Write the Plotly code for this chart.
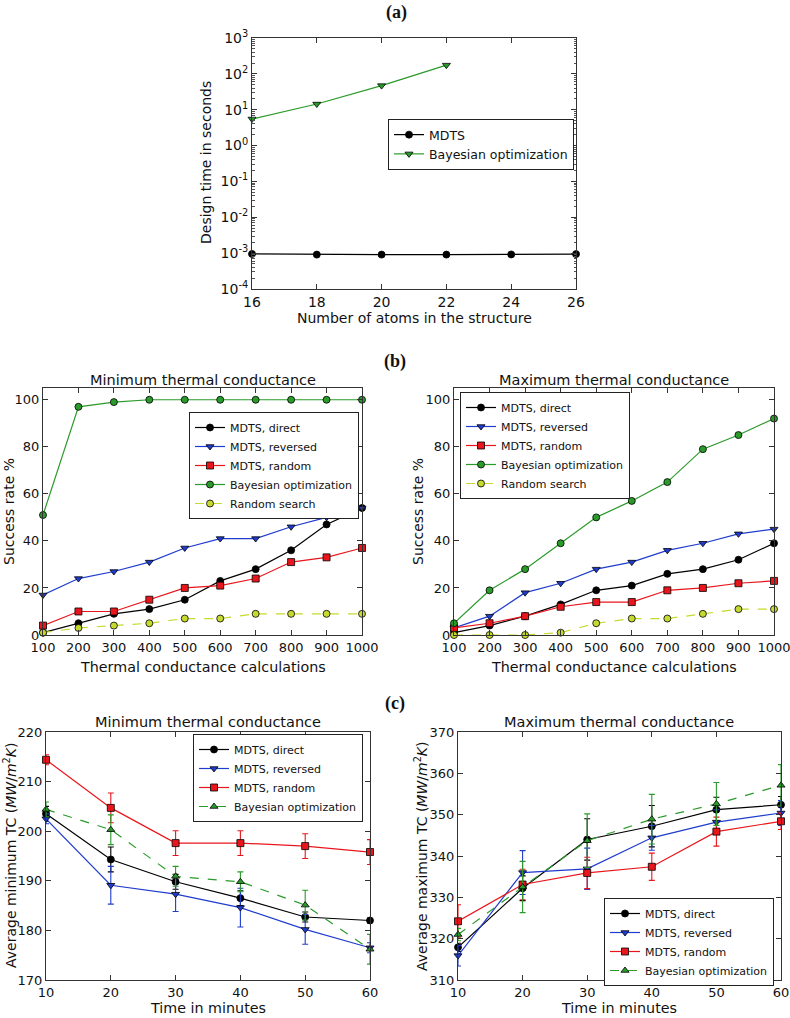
import plotly.graph_objects as go

W, H = 790, 1018
OFF = 0  # body margin removed via post_script

# ---------------- data ----------------
atoms = [16, 18, 20, 22, 24, 26]
mdts_time = [0.00095, 0.00091, 0.00091, 0.00091, 0.00092, 0.00094]
atoms_bo = [16, 18, 20, 22]
bo_time = [5.5, 14.4, 47.0, 175.0]

calcs = [100, 200, 300, 400, 500, 600, 700, 800, 900, 1000]
min_direct = [1, 5, 9, 11, 15, 23, 28, 36, 47, 54]
min_reversed = [17, 24, 27, 31, 37, 41, 41, 46, 50, 54]
min_random = [4, 10, 10, 15, 20, 21, 24, 31, 33, 37]
min_bayes = [51, 97, 99, 100, 100, 100, 100, 100, 100, 100]
min_rsearch = [1, 3, 4, 5, 7, 7, 9, 9, 9, 9]

max_direct = [1, 4, 8, 13, 19, 21, 26, 28, 32, 39]
max_reversed = [3, 8, 18, 22, 28, 31, 36, 39, 43, 45]
max_random = [3, 5, 8, 12, 14, 14, 19, 20, 22, 23]
max_bayes = [5, 19, 28, 39, 50, 57, 65, 79, 85, 92]
max_rsearch = [0, 0, 0, 1, 5, 7, 7, 9, 11, 11]

minutes = [10, 20, 30, 40, 50, 60]
tcmin_direct = [203.5, 194.3, 189.8, 186.5, 182.7, 182.0]
tcmin_direct_err = [1.5, 2.5, 1.5, 1.5, 1.0, 0.5]
tcmin_reversed = [202.5, 189.1, 187.3, 184.6, 180.2, 176.5]
tcmin_reversed_err = [1.0, 3.8, 3.5, 3.9, 3.0, 1.0]
tcmin_random = [214.4, 204.7, 197.6, 197.6, 197.0, 195.8]
tcmin_random_err = [1.0, 3.0, 2.5, 2.5, 2.5, 2.5]
tcmin_bayes = [204.4, 200.3, 190.9, 189.8, 185.1, 176.2]
tcmin_bayes_err = [1.5, 3.0, 2.0, 2.0, 3.0, 3.0]

tcmax_direct = [317.9, 332.2, 344.0, 347.2, 351.2, 352.4]
tcmax_direct_err = [1.0, 3.0, 5.0, 5.0, 3.0, 2.0]
tcmax_reversed = [315.9, 336.0, 336.9, 344.4, 348.2, 350.4]
tcmax_reversed_err = [2.5, 5.3, 5.0, 3.0, 3.0, 3.0]
tcmax_random = [324.2, 333.1, 335.9, 337.4, 345.9, 348.4]
tcmax_random_err = [4.0, 3.7, 3.8, 3.3, 3.5, 2.0]
tcmax_bayes = [321.0, 332.5, 343.7, 348.9, 352.6, 357.1]
tcmax_bayes_err = [1.5, 6.2, 6.5, 6.0, 5.2, 5.0]

log_ticks = [1e-4, 1e-3, 1e-2, 1e-1, 1, 10, 100, 1000]
log_labels = ["10<sup>-4</sup>", "10<sup>-3</sup>", "10<sup>-2</sup>", "10<sup>-1</sup>",
              "10<sup>0</sup>", "10<sup>1</sup>", "10<sup>2</sup>", "10<sup>3</sup>"]

# ---------------- styles ----------------
BLACK = "#000000"
BLUE = "#1f3ccc"
RED = "#e8161c"
GREEN = "#2a9a2a"
YEL = "#c6d92e"
FONT = "DejaVu Sans"

def fx(X):
    return (X - OFF) / W

def fy(Y):
    return 1 - (Y - OFF) / H

fig = go.Figure()

def add_line(x, y, name, color, symbol, xa, ya, legend, dash="solid", err=None,
             msize=7, fill=None, lw=1.2):
    t = go.Scatter(
        x=x, y=y, name=name, mode="lines+markers",
        xaxis=xa, yaxis=ya, legend=legend,
        line=dict(color=color, width=lw, dash=dash),
        marker=dict(symbol=symbol, size=msize, color=fill or color,
                    line=dict(color="#000000", width=0.8)),
        cliponaxis=False,
    )
    if err is not None:
        t.error_y = dict(type="data", array=err, visible=True, color=color,
                         thickness=1.1, width=3)
    fig.add_trace(t)

# (a)
add_line(atoms, mdts_time, "MDTS", BLACK, "circle", "x", "y", "legend")
add_line(atoms_bo, bo_time, "Bayesian optimization", GREEN, "triangle-down", "x", "y", "legend")

# (b) min
add_line(calcs, min_direct, "MDTS, direct", BLACK, "circle", "x2", "y2", "legend2")
add_line(calcs, min_reversed, "MDTS, reversed", BLUE, "triangle-down", "x2", "y2", "legend2")
add_line(calcs, min_random, "MDTS, random", RED, "square", "x2", "y2", "legend2")
add_line(calcs, min_bayes, "Bayesian optimization", GREEN, "circle", "x2", "y2", "legend2")
add_line(calcs, min_rsearch, "Random search", YEL, "circle", "x2", "y2", "legend2", dash="dash")

# (b) max
add_line(calcs, max_direct, "MDTS, direct", BLACK, "circle", "x3", "y3", "legend3")
add_line(calcs, max_reversed, "MDTS, reversed", BLUE, "triangle-down", "x3", "y3", "legend3")
add_line(calcs, max_random, "MDTS, random", RED, "square", "x3", "y3", "legend3")
add_line(calcs, max_bayes, "Bayesian optimization", GREEN, "circle", "x3", "y3", "legend3")
add_line(calcs, max_rsearch, "Random search", YEL, "circle", "x3", "y3", "legend3", dash="dash")

# (c) min
add_line(minutes, tcmin_direct, "MDTS, direct", BLACK, "circle", "x4", "y4", "legend4", err=tcmin_direct_err)
add_line(minutes, tcmin_reversed, "MDTS, reversed", BLUE, "triangle-down", "x4", "y4", "legend4", err=tcmin_reversed_err)
add_line(minutes, tcmin_random, "MDTS, random", RED, "square", "x4", "y4", "legend4", err=tcmin_random_err)
add_line(minutes, tcmin_bayes, "Bayesian optimization", GREEN, "triangle-up", "x4", "y4", "legend4", dash="dash", err=tcmin_bayes_err)

# (c) max
add_line(minutes, tcmax_direct, "MDTS, direct", BLACK, "circle", "x5", "y5", "legend5", err=tcmax_direct_err)
add_line(minutes, tcmax_reversed, "MDTS, reversed", BLUE, "triangle-down", "x5", "y5", "legend5", err=tcmax_reversed_err)
add_line(minutes, tcmax_random, "MDTS, random", RED, "square", "x5", "y5", "legend5", err=tcmax_random_err)
add_line(minutes, tcmax_bayes, "Bayesian optimization", GREEN, "triangle-up", "x5", "y5", "legend5", dash="dash", err=tcmax_bayes_err)

tickfont = dict(family=FONT, size=13, color="#111")

def ax(domain, anchor, **kw):
    d = dict(domain=domain, anchor=anchor, showgrid=False, zeroline=False,
             showline=True, linecolor="#333", linewidth=1, mirror="ticks",
             ticks="inside", ticklen=5, tickcolor="#333", tickfont=tickfont,
             automargin=False, ticklabeloverflow="allow")
    d.update(kw)
    return d

# panel geometry in reference pixels (left, right, top, bottom)
A = (252, 576, 38, 289)
BL = (43, 362, 388, 635)
BR = (454, 774, 388, 635)
CL = (46, 370, 732, 980)
CR = (458, 781, 732, 980)

def xd(p): return [fx(p[0]), fx(p[1])]
def yd(p): return [fy(p[3]), fy(p[2])]

layout = dict(
    width=W, height=H, margin=dict(l=0, r=0, t=0, b=0, autoexpand=False),
    paper_bgcolor="white", plot_bgcolor="white",
    font=dict(family=FONT, size=13, color="#111"),
    xaxis=ax(xd(A), "y", range=[16, 26], tickvals=atoms, tickfont=dict(family=FONT, size=14, color="#111")),
    yaxis=ax(yd(A), "x", type="log", range=[-4, 3], tickvals=log_ticks, ticktext=log_labels,
             tickfont=dict(family=FONT, size=14, color="#111"),
             minor=dict(ticks="inside", ticklen=2.5, tickcolor="#555", dtick="D1")),
    xaxis2=ax(xd(BL), "y2", range=[100, 1000], tickvals=calcs),
    yaxis2=ax(yd(BL), "x2", range=[0, 105], tickvals=[0, 20, 40, 60, 80, 100]),
    xaxis3=ax(xd(BR), "y3", range=[100, 1000], tickvals=calcs),
    yaxis3=ax(yd(BR), "x3", range=[0, 105], tickvals=[0, 20, 40, 60, 80, 100]),
    xaxis4=ax(xd(CL), "y4", range=[10, 60], tickvals=minutes),
    yaxis4=ax(yd(CL), "x4", range=[170, 220], tickvals=[170, 180, 190, 200, 210, 220]),
    xaxis5=ax(xd(CR), "y5", range=[10, 60], tickvals=minutes),
    yaxis5=ax(yd(CR), "x5", range=[310, 370], tickvals=[310, 320, 330, 340, 350, 360, 370]),
    showlegend=True,
)

def leg(x0, y0, size=11):
    return dict(x=fx(x0), y=fy(y0), xanchor="left", yanchor="top",
                bgcolor="white", bordercolor="#222", borderwidth=1,
                font=dict(family=FONT, size=size, color="#111"),
                tracegroupgap=0, itemwidth=30)

layout["legend"] = leg(388, 119, size=12.5)
layout["legend2"] = leg(189, 412)
layout["legend3"] = leg(460, 392)
layout["legend4"] = leg(193, 734)
layout["legend5"] = leg(604, 898)

fig.update_layout(**layout)

def annot(text, x, y, size=14, angle=0, family=FONT, bold=False):
    if bold:
        text = "<b>" + text + "</b>"
    fig.add_annotation(text=text, x=fx(x), y=fy(y), xref="paper", yref="paper",
                       xanchor="center", yanchor="middle", showarrow=False,
                       textangle=angle, font=dict(family=family, size=size, color="#111"))

annot("(a)", 396, 13, size=18, family="Liberation Serif", bold=True)
annot("(b)", 395, 361, size=18, family="Liberation Serif", bold=True)
annot("(c)", 395, 703, size=18, family="Liberation Serif", bold=True)

annot("Number of atoms in the structure", 414, 318, size=14)
annot("Design time in seconds", 206, 163, size=14, angle=-90)

annot("Minimum thermal conductance", 203, 380, size=14.5)
annot("Maximum thermal conductance", 614, 380, size=14.5)
annot("Thermal conductance calculations", 203, 667, size=14.3)
annot("Thermal conductance calculations", 614, 667, size=14.3)
annot("Success rate %", 9, 512, size=14, angle=-90)
annot("Success rate %", 418, 512, size=14, angle=-90)

annot("Minimum thermal conductance", 208, 722, size=14.5)
annot("Maximum thermal conductance", 619, 722, size=14.5)
annot("Time in minutes", 208, 1008, size=14.3)
annot("Time in minutes", 619, 1008, size=14.3)
annot("Average minimum TC (<i>MW</i>/<i>m</i><sup>2</sup><i>K</i>)", 10, 856, size=14, angle=-90)
annot("Average maximum TC (<i>MW</i>/<i>m</i><sup>2</sup><i>K</i>)", 421, 856, size=14, angle=-90)

fig.write_html(
    "out.html",
    config={"displayModeBar": False},
    post_script="document.body.style.margin='0';document.body.style.overflow='hidden';",
)
